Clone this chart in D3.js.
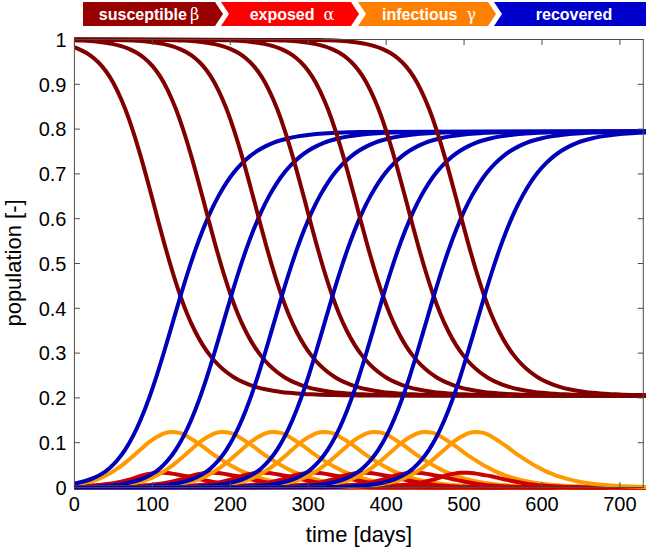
<!DOCTYPE html>
<html><head><meta charset="utf-8">
<script src="https://cdn.jsdelivr.net/npm/d3@7"></script>
<style>body{margin:0;background:#fff}svg{display:block}</style>
</head><body><svg id="c" width="646" height="558"></svg>
<script>
// peak day of the infectious curve for each of the 7 epidemics
const peakDays = [125, 190, 255, 320, 385, 450, 515];
// days relative to the infectious peak at which the curve shape is read
const tauDays = [-520,-200,-190,-180,-170,-160,-150,-140,-130,-120,-110,-100,-90,-80,-70,-60,-50,-40,-30,-20,-10,0,10,20,30,40,50,60,70,80,90,100,110,120,130,140,150,160,170,180,190,200,210,220,230,240,640];
const susceptible = [1,0.9988,0.9982,0.9975,0.9965,0.9949,0.9927,0.9897,0.9853,0.9791,0.9704,0.9582,0.9411,0.9176,0.8860,0.8458,0.7967,0.7397,0.6770,0.6117,0.5471,0.4866,0.4325,0.3863,0.3482,0.3173,0.2927,0.2732,0.2578,0.2457,0.2364,0.2292,0.2235,0.2192,0.2158,0.2133,0.2114,0.2099,0.2087,0.2079,0.2072,0.2067,0.2063,0.2060,0.2058,0.2056,0.2050];
const exposed = [0,0.0002,0.0002,0.0003,0.0005,0.0006,0.0009,0.0013,0.0019,0.0026,0.0035,0.0049,0.0064,0.0083,0.0113,0.0152,0.0200,0.0260,0.0300,0.0330,0.0330,0.0310,0.0280,0.0250,0.0210,0.0170,0.0135,0.0100,0.0072,0.0052,0.0041,0.0027,0.0019,0.0013,0.0010,0.0008,0.0006,0.0005,0.0004,0.0003,0.0002,0.0002,0.0002,0.0002,0.0001,0.0001,0];
const infectious = [0,0.00045,0.00065,0.0009,0.0013,0.0019,0.0027,0.0038,0.0054,0.0077,0.011,0.0155,0.022,0.031,0.042,0.055,0.070,0.085,0.100,0.112,0.121,0.124,0.122,0.114,0.103,0.091,0.078,0.066,0.055,0.045,0.036,0.029,0.023,0.018,0.014,0.0108,0.0083,0.0064,0.0049,0.0038,0.0029,0.0022,0.0017,0.0013,0.0010,0.0008,0];
const recovered = [0,0.0006,0.0009,0.0013,0.0018,0.0026,0.0037,0.0052,0.0074,0.0106,0.0151,0.0214,0.0304,0.0432,0.0607,0.0840,0.1140,0.1512,0.1957,0.2466,0.3025,0.3614,0.4205,0.4771,0.5292,0.5758,0.6164,0.6510,0.6801,0.7041,0.7235,0.7391,0.7516,0.7615,0.7692,0.7751,0.7797,0.7832,0.7859,0.7880,0.7897,0.7909,0.7918,0.7925,0.7931,0.7935,0.7950];
const xTicks = [0,100,200,300,400,500,600,700];
const yTicks = [0,0.1,0.2,0.3,0.4,0.5,0.6,0.7,0.8,0.9,1];
const legendLabels = ["susceptible", "exposed", "infectious", "recovered"];
const legendSymbols = ["β", "α", "γ", ""];
const legendColors = ["#990000", "#ff0000", "#ff8000", "#0000cc"];
const lineColors = {S:"#800000", E:"#cc0000", I:"#ff9900", R:"#0000b8"};

const svg = d3.select("#c");
const FONT = "Liberation Sans, Arial, Helvetica, sans-serif";
const x = d3.scaleLinear().domain([0,730]).range([74.4,643.3]);
const y = d3.scaleLinear().domain([0,1]).range([487.5,39.5]);

svg.append("defs").append("clipPath").attr("id","clip")
  .append("rect").attr("x",x(0)).attr("y",y(1)-3).attr("width",x(730)-x(0)+3).attr("height",y(0)-y(1)+6);

const line = d3.line().x(d=>x(d[0])).y(d=>y(d[1])).curve(d3.curveMonotoneX);
const g = svg.append("g").attr("clip-path","url(#clip)");
const comps = [["S",susceptible],["E",exposed],["I",infectious],["R",recovered]];
peakDays.forEach(p=>{
  comps.forEach(([k,arr])=>{
    const pts = tauDays.map((t,i)=>[p+t, arr[i]]);
    g.append("path").attr("d",line(pts)).attr("fill","none")
     .attr("stroke",lineColors[k]).attr("stroke-width",4).attr("stroke-linejoin","round");
  });
});

// axes box and ticks (inward, all four sides)
const axCol = "#4d4d4d";
const ax = svg.append("g");
ax.append("rect").attr("x",x(0)).attr("y",y(1)).attr("width",x(730)-x(0)).attr("height",y(0)-y(1))
  .attr("fill","none").attr("stroke",axCol).attr("stroke-width",1);
const tl = 5.5;
xTicks.forEach(v=>{
  ax.append("line").attr("x1",x(v)).attr("x2",x(v)).attr("y1",y(0)).attr("y2",y(0)-tl).attr("stroke",axCol);
  ax.append("line").attr("x1",x(v)).attr("x2",x(v)).attr("y1",y(1)).attr("y2",y(1)+tl).attr("stroke",axCol);
  ax.append("text").attr("x",x(v)).attr("y",511).attr("text-anchor","middle")
    .attr("font-family",FONT).attr("font-size",20).text(v);
});
yTicks.forEach(v=>{
  ax.append("line").attr("x1",x(0)).attr("x2",x(0)+tl).attr("y1",y(v)).attr("y2",y(v)).attr("stroke",axCol);
  ax.append("line").attr("x1",x(730)).attr("x2",x(730)-tl).attr("y1",y(v)).attr("y2",y(v)).attr("stroke",axCol);
  ax.append("text").attr("x",66.5).attr("y",y(v)+7.2).attr("text-anchor","end")
    .attr("font-family",FONT).attr("font-size",20).text(v);
});
svg.append("text").attr("x",359).attr("y",542).attr("text-anchor","middle")
  .attr("font-family",FONT).attr("font-size",22).text("time [days]");
svg.append("text").attr("transform","translate(20.5,263) rotate(-90)").attr("text-anchor","middle")
  .attr("font-family",FONT).attr("font-size",22).text("population [-]");

// legend chevrons
const lx = [83, 221, 358, 494], lw = [132, 130, 130, 152], ly = 2, lh = 24, d = 8;
legendLabels.forEach((lab,i)=>{
  const x0 = lx[i], x1 = lx[i]+lw[i], m = ly+lh/2;
  let pts;
  if (i===0) pts = [[x0,ly],[x1,ly],[x1+d,m],[x1,ly+lh],[x0,ly+lh]];
  else if (i===3) pts = [[x0,ly],[646,ly],[646,ly+lh],[x0,ly+lh],[x0+d,m]];
  else pts = [[x0,ly],[x1,ly],[x1+d,m],[x1,ly+lh],[x0,ly+lh],[x0+d,m]];
  svg.append("path").attr("d","M"+pts.map(p=>p.join(",")).join("L")+"Z").attr("fill",legendColors[i]);
  const cx = i===0 ? x0+lw[i]/2 : (i===3 ? x0+d+ (646-x0-d)/2 : x0+d+ (lw[i]-d)/2 +2);
  const t = svg.append("text").attr("x",cx).attr("y",20).attr("text-anchor","middle")
    .attr("fill","#fff").attr("font-family",FONT).attr("font-size",16).attr("font-weight","bold");
  t.append("tspan").text(lab);
  if (legendSymbols[i]) t.append("tspan").attr("font-weight","normal").attr("font-family","DejaVu Serif, serif")
    .attr("dx", i===0?3:9).text(legendSymbols[i]);
});
</script></body></html>
